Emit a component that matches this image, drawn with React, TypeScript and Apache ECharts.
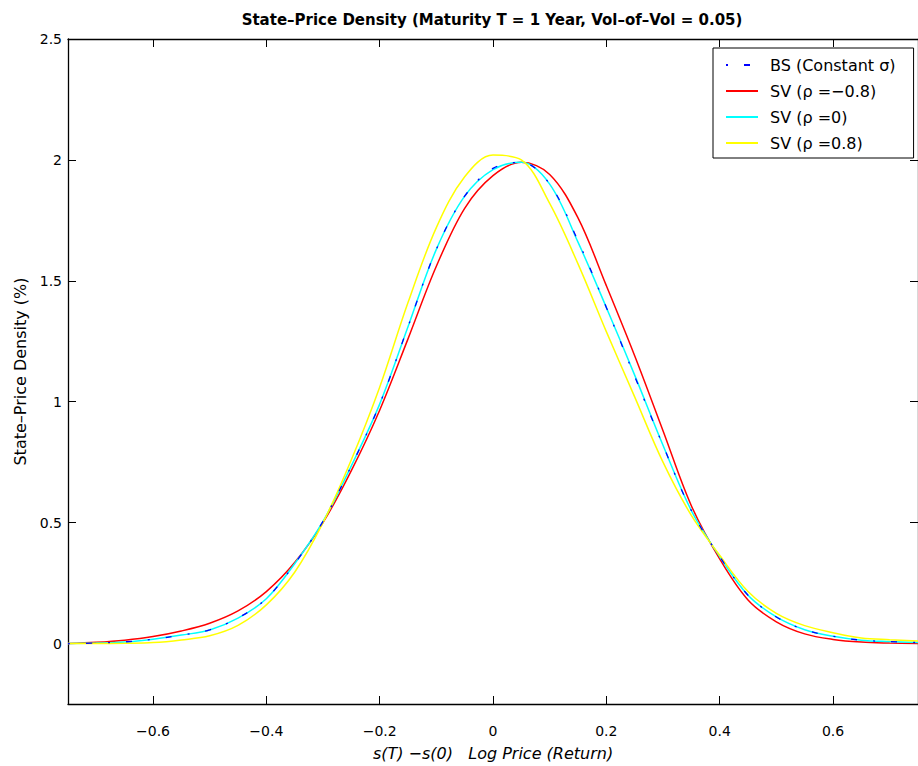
import React, { useEffect, useRef } from "react";
import * as echarts from "echarts";

// x grid (log price / return)
const xs = [
  -0.75, -0.7, -0.65, -0.6, -0.55, -0.5, -0.45, -0.4, -0.35, -0.3, -0.25, -0.2, -0.15, -0.1, -0.05,
  0, 0.05, 0.1, 0.15, 0.2, 0.25, 0.3, 0.35, 0.4, 0.45, 0.5, 0.55, 0.6, 0.65, 0.7, 0.75,
];

// BS (Constant sigma)
const bsValues = [
  0.0, 0.002, 0.007, 0.018, 0.035, 0.057, 0.106, 0.186, 0.33, 0.505, 0.735, 0.99, 1.31, 1.63, 1.85,
  1.965, 1.99, 1.9, 1.665, 1.39, 1.105, 0.82, 0.55, 0.36, 0.2, 0.11, 0.057, 0.03, 0.014, 0.008, 0.004,
];
// SV (rho = -0.8)
const svNeg = [
  0.0, 0.005, 0.014, 0.029, 0.052, 0.084, 0.135, 0.215, 0.335, 0.5, 0.715, 0.965, 1.26, 1.56, 1.8,
  1.935, 1.99, 1.94, 1.76, 1.48, 1.19, 0.88, 0.57, 0.35, 0.18, 0.09, 0.04, 0.017, 0.006, 0.002, 0.0,
];
// SV (rho = 0)
const svZero = [
  0.0, 0.002, 0.006, 0.018, 0.035, 0.056, 0.105, 0.185, 0.33, 0.505, 0.735, 0.99, 1.31, 1.63, 1.85,
  1.96, 1.99, 1.9, 1.66, 1.39, 1.11, 0.82, 0.55, 0.36, 0.2, 0.11, 0.057, 0.03, 0.014, 0.008, 0.004,
];
// SV (rho = 0.8)
const svPos = [
  0.0, 0.0, 0.001, 0.004, 0.015, 0.032, 0.075, 0.16, 0.295, 0.5, 0.76, 1.06, 1.41, 1.72, 1.93,
  2.02, 2.0, 1.82, 1.57, 1.29, 1.02, 0.75, 0.53, 0.365, 0.215, 0.125, 0.074, 0.045, 0.023, 0.016, 0.011,
];

const xTicks = [-0.6, -0.4, -0.2, 0, 0.2, 0.4, 0.6];
const yTicks = [0, 0.5, 1, 1.5, 2, 2.5];

const seriesNames = ["BS (Constant σ)", "SV (ρ =−0.8)", "SV (ρ =0)", "SV (ρ =0.8)"];

const FONT = "DejaVu Sans";

function pts(v: number[]) {
  return xs.map((x, i) => [x, v[i]]);
}

function fmt(v: number) {
  const s = String(Math.round(v * 100) / 100);
  return s.replace("-", "−");
}

export default function App() {
  const ref = useRef<HTMLDivElement>(null);
  useEffect(() => {
    if (!ref.current) return;
    const chart = echarts.init(ref.current, null, { renderer: "svg" });
    const tickCommon = { show: true, inside: true, length: 8, lineStyle: { color: "#000", width: 1 } };
    const lineCommon = { show: true, onZero: false, lineStyle: { color: "#000", width: 1.3 } };
    const lbl = { fontFamily: FONT, fontSize: 14, color: "#000" };
    chart.setOption({
      animation: false,
      backgroundColor: "#fff",
      title: {
        text: "State–Price Density (Maturity T = 1 Year, Vol–of–Vol = 0.05)",
        left: 487,
        textAlign: "center",
        top: 7,
        textStyle: { fontFamily: FONT, fontSize: 15, fontWeight: "bold", color: "#000" },
      },
      grid: { left: 68, top: 39, right: -7, bottom: 53, containLabel: false },
      legend: {
        data: seriesNames,
        orient: "vertical",
        left: 713,
        top: 48,
        padding: [9, 18, 7, 12],
        itemWidth: 32,
        itemHeight: 14,
        itemGap: 10,
        backgroundColor: "#fff",
        borderColor: "#000",
        borderWidth: 1,
        itemStyle: { opacity: 0 },
        textStyle: { fontFamily: FONT, fontSize: 16, color: "#000", padding: [0, 0, 0, 7] },
      },
      xAxis: [
        {
          type: "value",
          min: -0.75,
          max: 0.75,
          position: "bottom",
          name: "s(T) −s(0)   Log Price (Return)",
          nameLocation: "middle",
          nameGap: 41,
          nameTextStyle: { fontFamily: FONT, fontSize: 16, fontStyle: "italic", color: "#000" },
          axisLine: lineCommon,
          axisTick: { ...tickCommon, customValues: xTicks },
          axisLabel: { ...lbl, margin: 20, customValues: xTicks, formatter: (v: number) => fmt(v) },
          splitLine: { show: false },
        },
        {
          type: "value",
          min: -0.75,
          max: 0.75,
          position: "top",
          axisLine: lineCommon,
          axisTick: { ...tickCommon, customValues: xTicks },
          axisLabel: { show: false },
          splitLine: { show: false },
        },
      ],
      yAxis: [
        {
          type: "value",
          min: -0.25,
          max: 2.5,
          position: "left",
          name: "State–Price Density (%)",
          nameLocation: "middle",
          nameRotate: 90,
          nameGap: 33,
          nameTextStyle: { fontFamily: FONT, fontSize: 16, color: "#000" },
          axisLine: lineCommon,
          axisTick: { ...tickCommon, customValues: yTicks },
          axisLabel: { ...lbl, margin: 6, customValues: yTicks, formatter: (v: number) => fmt(v) },
          splitLine: { show: false },
        },
        {
          type: "value",
          min: -0.25,
          max: 2.5,
          position: "right",
          axisLine: lineCommon,
          axisTick: { ...tickCommon, customValues: yTicks },
          axisLabel: { show: false },
          splitLine: { show: false },
        },
      ],
      series: [
        {
          name: seriesNames[1],
          type: "line",
          data: pts(svNeg),
          smooth: 0.35,
          symbol: "none",
          lineStyle: { color: "#ff0000", width: 1.5 },
          itemStyle: { color: "#ff0000" },
        },
        {
          name: seriesNames[2],
          type: "line",
          data: pts(svZero),
          smooth: 0.35,
          symbol: "none",
          lineStyle: { color: "#00ffff", width: 1.5 },
          itemStyle: { color: "#00ffff" },
        },
        {
          name: seriesNames[3],
          type: "line",
          data: pts(svPos),
          smooth: 0.35,
          symbol: "none",
          lineStyle: { color: "#ffff00", width: 1.5 },
          itemStyle: { color: "#ffff00" },
        },
        {
          name: seriesNames[0],
          type: "line",
          data: pts(bsValues),
          smooth: 0.35,
          symbol: "none",
          lineStyle: { color: "#0000ff", width: 1.3, type: [2, 16, 6, 16] },
          itemStyle: { color: "#0000ff" },
          z: 3,
        },
      ],
    });
    return () => chart.dispose();
  }, []);
  return (
    <div
      ref={ref}
      style={{ position: "absolute", left: 0, top: 0, width: 918, height: 766, background: "#fff" }}
    />
  );
}
